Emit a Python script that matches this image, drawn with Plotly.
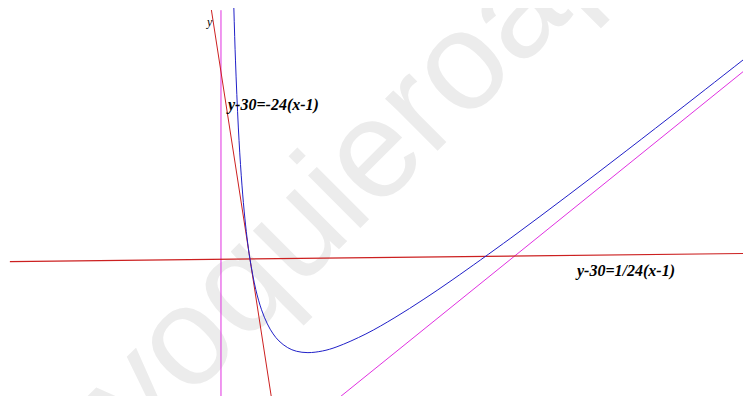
import plotly.graph_objects as go

# curve y = 3x + 27/x
curve_x = [0.44, 0.5, 0.6, 0.7, 0.8, 0.9, 1.0, 1.2, 1.4, 1.6, 1.8, 2.0, 2.3, 2.6,
           3.0, 3.5, 4.0, 5.0, 6.0, 7.0, 8.0, 10.0, 12.0, 14.0, 16.0, 18.5]
curve_y = [62.68, 55.5, 46.8, 40.67, 36.15, 32.7, 30.0, 26.1, 23.49, 21.68, 20.4, 19.5, 18.64, 18.18,
           18.0, 18.21, 18.75, 20.4, 22.5, 24.86, 27.38, 32.7, 38.25, 43.93, 49.69, 56.96]

# tangent y-30=-24(x-1) and normal y-30=1/24(x-1)
tangent_x = [-0.33, 1.8]
tangent_y = [61.92, 10.8]
normal_x = [-7.28, 19.0]
normal_y = [29.655, 30.75]

# asymptotes x=0 and y=3x
vert_x = [0, 0]
vert_y = [61.9, 10.0]
obl_x = [3.5, 19.0]
obl_y = [10.5, 57.0]

label_tangent = "y-30=-24(x-1)"
label_normal = "y-30=1/24(x-1)"
watermark = "yoquieroaprobar"

fig = go.Figure()
fig.add_trace(go.Scatter(x=vert_x, y=vert_y, mode="lines",
                         line=dict(color="#e030e0", width=1)))
fig.add_trace(go.Scatter(x=obl_x, y=obl_y, mode="lines",
                         line=dict(color="#e030e0", width=1)))
fig.add_trace(go.Scatter(x=normal_x, y=normal_y, mode="lines",
                         line=dict(color="#cc2020", width=1.2)))
fig.add_trace(go.Scatter(x=tangent_x, y=tangent_y, mode="lines",
                         line=dict(color="#cc2020", width=1)))
fig.add_trace(go.Scatter(x=curve_x, y=curve_y, mode="lines", line_shape="spline",
                         line=dict(color="#2020c8", width=1)))

# watermark behind the lines
fig.add_shape(type="rect", xref="paper", yref="paper",
              x0=0.553, x1=0.653, y0=0.854, y1=0.954, layer="below",
              line=dict(width=0), fillcolor="rgba(0,0,0,0)",
              label=dict(text=watermark, textangle=-45, textposition="middle center",
                         font=dict(family="Liberation Sans", size=140, color="#ececec")))

fig.add_annotation(x=1.79, y=49.7, text=label_tangent, showarrow=False,
                   font=dict(family="Liberation Serif", size=16, color="black"))
fig.add_annotation(x=13.93, y=28.46, text=label_normal, showarrow=False,
                   font=dict(family="Liberation Serif", size=16, color="black"))
fig.add_annotation(x=-0.38, y=60.4, text="<i>y</i>", showarrow=False,
                   font=dict(family="Liberation Serif", size=12, color="black"))
for a in fig.layout.annotations[:2]:
    a.text = "<b><i>" + a.text + "</i></b>"

# the page puts the figure 8px in from the top-left corner
fig.update_xaxes(range=[-7.345, 18.28], visible=False, showgrid=False, zeroline=False)
fig.update_yaxes(range=[12.44, 62.18], visible=False, showgrid=False, zeroline=False)
fig.update_layout(width=743, height=388, margin=dict(l=0, r=0, t=0, b=0),
                  paper_bgcolor="white", plot_bgcolor="white", showlegend=False)

fig.write_html("out.html")
